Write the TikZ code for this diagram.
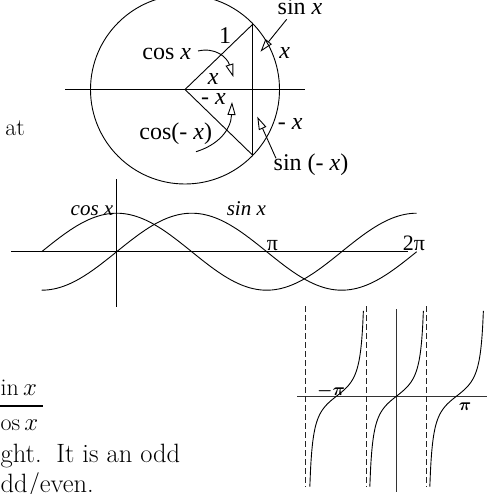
\documentclass[tikz,border=0pt]{standalone}
\usepackage{fontspec}
\newfontfamily\tms{Liberation Serif}
\usetikzlibrary{arrows.meta}
\tikzset{
  ln/.style={line width=0.9pt},
  lbl/.style={font=\tms\fontsize{24}{28}\selectfont, inner sep=0pt, anchor=base},
  glbl/.style={font=\tms\itshape\fontsize{21}{24}\selectfont, inner sep=0pt, anchor=base},
  pilbl/.style={font=\tms\fontsize{22}{24}\selectfont, inner sep=0pt, anchor=base},
  tanlbl/.style={font=\fontsize{19}{21}\selectfont\boldmath, inner sep=0pt, anchor=base},
  txt/.style={font=\fontsize{24}{28}\selectfont, inner sep=0pt, anchor=base west},
  btxt/.style={font=\fontsize{26.5}{30}\selectfont, inner sep=0pt, anchor=base west},
  openarrow/.style={-{Triangle[open, length=13pt, width=8pt]}, line width=0.9pt},
  asym/.style={dash pattern=on 6pt off 3pt, line width=0.9pt, black!85},
}
\begin{document}
\begin{tikzpicture}[x=1pt, y=-1pt]
\useasboundingbox (0,0) rectangle (487,494);

% ---------- unit circle ----------
\coordinate (O) at (185,89.5);
\coordinate (P) at (252.5,24.5);
\coordinate (Q) at (252.5,155);
\coordinate (hl) at (65,89.5);
\coordinate (hr) at (305,89.5);
\draw[ln] (O) circle[radius=94.5pt];
\draw[ln] (hl) -- (hr);
\draw[ln] (P) -- (O) -- (Q) -- cycle;

\node[lbl] (one) at (225,44) {1};
\node[lbl] (cosx) at (166.7,59.5) {cos \textit{x}};
\node[lbl] (ang) at (213.3,85) {\textit{x}};
\node[lbl] (mang) at (213.5,104.5) {- \textit{x}};
\node[lbl] (cosmx) at (175.8,140) {cos(- \textit{x})};
\node[lbl] (sinx) at (300,15) {sin \textit{x}};
\node[lbl] (arcx) at (284.7,58.3) {\textit{x}};
\node[lbl] (marcx) at (290.3,130) {- \textit{x}};
\node[lbl] (sinmx) at (311,170.5) {sin (- \textit{x})};

\coordinate (a1s) at (198,51);
\coordinate (a1e) at (233.3,77);
\coordinate (a2s) at (196,151.7);
\coordinate (a2e) at (232,102);
\coordinate (a3s) at (286.7,19.3);
\coordinate (a3e) at (260.5,51.7);
\coordinate (a4s) at (276,158.3);
\coordinate (a4e) at (257.3,116.7);
\draw[openarrow] (a1s) .. controls (215,47) and (227,57) .. (a1e);
\draw[openarrow] (a2s) .. controls (218,145) and (231,130) .. (a2e);
\draw[openarrow] (a3s) -- (a3e);
\draw[openarrow] (a4s) -- (a4e);

% ---------- sine / cosine graph ----------
\coordinate (gxl) at (11,251.7);
\coordinate (gxr) at (408,251.7);
\coordinate (gyt) at (116.7,179.3);
\coordinate (gyb) at (116.7,307);
\draw[ln] (gxl) -- (gxr);
\draw[ln] (gyt) -- (gyb);
\draw[ln] plot[domain=-1.5708:6.2832, samples=120, smooth]
  ({116.7+47.75*\x}, {251.7-38.5*sin(\x r)});
\draw[ln] plot[domain=-1.5708:6.2832, samples=120, smooth]
  ({116.7+47.75*\x}, {251.7-38.5*cos(\x r)});
\node[glbl] (gcos) at (92,215) {cos x};
\node[glbl] (gsin) at (246.3,215) {sin x};
\node[pilbl] (gpi) at (272.5,250) {π};
\node[pilbl] (g2pi) at (414,250) {2π};

% ---------- tangent graph ----------
\coordinate (txl) at (297.3,396);
\coordinate (txr) at (486.7,396);
\coordinate (tyt) at (396.7,309.3);
\coordinate (tyb) at (396.7,491.7);
\draw[ln, black!80] (txl) -- (txr);
\draw[ln, black!80] (tyt) -- (tyb);
\foreach \d in {305.7,366.7,426.7}
  \draw[asym] (\d,306) -- (\d,487);
\foreach \c in {336.7,396.7,456.7}
  \draw[ln] plot[domain=-80.6:80, samples=80, smooth]
    ({\c+\x/3}, {396-15*tan(\x)});
\node[tanlbl] (tmpi) at (331,395) {$-\pi$};
\node[tanlbl] (tpi) at (465,410) {$\pi$};

% ---------- cut-off body text ----------
\node[txt, anchor=base east] (t1) at (25,136) {at};
\node[txt] (t2) at (0.5,395) {in$\,x$};
\coordinate (fbl) at (0,406);
\coordinate (fbr) at (43,406);
\draw[line width=1.6pt] (fbl) -- (fbr);
\node[txt] (t3) at (0.5,430) {os$\,x$};
\node[btxt] (t4) at (0.5,462.7) {ght.\hspace{4pt} It is an odd};
\node[btxt] (t5) at (0.5,492.7) {dd/even.};
\end{tikzpicture}
\end{document}
